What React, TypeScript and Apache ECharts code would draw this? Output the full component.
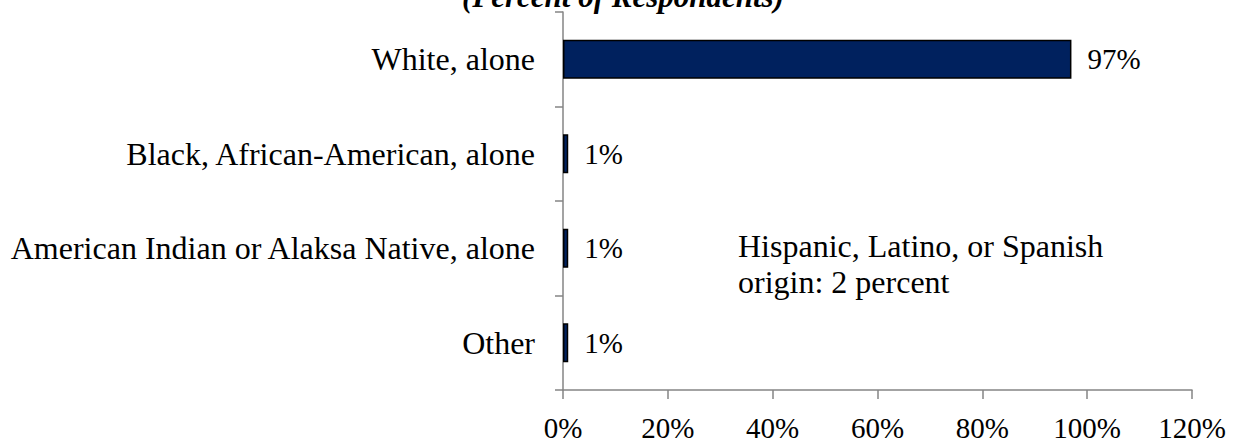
import React, { useEffect, useRef } from "react";
import * as echarts from "echarts";

// Race of respondents, top to bottom
const categories = [
  "White, alone",
  "Black, African-American, alone",
  "American Indian or Alaksa Native, alone",
  "Other",
];
const shares = [97, 1, 1, 1];

const xTicks = [0, 20, 40, 60, 80, 100, 120];

const subtitle = "(Percent of Respondents)";
const noteLines = ["Hispanic, Latino, or Spanish", "origin: 2 percent"];

const FONT = "'Liberation Serif', 'Times New Roman', serif";
const AXIS_GRAY = "#858585";

export default function App() {
  const ref = useRef<HTMLDivElement>(null);

  useEffect(() => {
    document.body.style.margin = "0";
    if (!ref.current) return;
    const chart = echarts.init(ref.current, null, { renderer: "svg" });

    chart.setOption({
      animation: false,
      backgroundColor: "#ffffff",
      textStyle: { fontFamily: FONT },
      grid: { left: 563, right: 41, top: 12, bottom: 52, containLabel: false },
      xAxis: {
        type: "value",
        min: xTicks[0],
        max: xTicks[xTicks.length - 1],
        interval: xTicks[1] - xTicks[0],
        axisLine: { show: true, lineStyle: { color: AXIS_GRAY, width: 1.5 } },
        axisTick: { show: true, length: 9, lineStyle: { color: AXIS_GRAY, width: 1.5 } },
        splitLine: { show: false },
        axisLabel: {
          formatter: "{value}%",
          fontSize: 29,
          color: "#000",
          fontFamily: FONT,
          margin: 23,
        },
      },
      yAxis: {
        type: "category",
        inverse: true,
        data: categories,
        axisLine: { show: true, lineStyle: { color: AXIS_GRAY, width: 1.5 } },
        axisTick: { show: true, length: 8, lineStyle: { color: AXIS_GRAY, width: 1.5 } },
        axisLabel: {
          fontSize: 32,
          color: "#000",
          fontFamily: FONT,
          margin: 28,
        },
      },
      series: [
        {
          type: "bar",
          data: shares,
          barWidth: 39,
          itemStyle: { color: "#00215E", borderColor: "#000", borderWidth: 1.5 },
          label: {
            show: true,
            position: "right",
            distance: 16,
            formatter: "{c}%",
            fontSize: 29,
            color: "#000",
            fontFamily: FONT,
          },
        },
      ],
      graphic: [
        {
          type: "text",
          x: 623,
          y: -19,
          style: {
            text: subtitle,
            fontSize: 31,
            fontWeight: "bold",
            fontStyle: "italic",
            fontFamily: FONT,
            fill: "#000",
            align: "center",
            verticalAlign: "top",
          },
        },
        {
          type: "text",
          x: 738,
          y: 228,
          style: {
            text: noteLines.join("\n"),
            fontSize: 32,
            lineHeight: 36,
            fontFamily: FONT,
            fill: "#000",
          },
        },
      ],
    });

    return () => chart.dispose();
  }, []);

  return <div ref={ref} style={{ width: 1233, height: 442 }} />;
}
